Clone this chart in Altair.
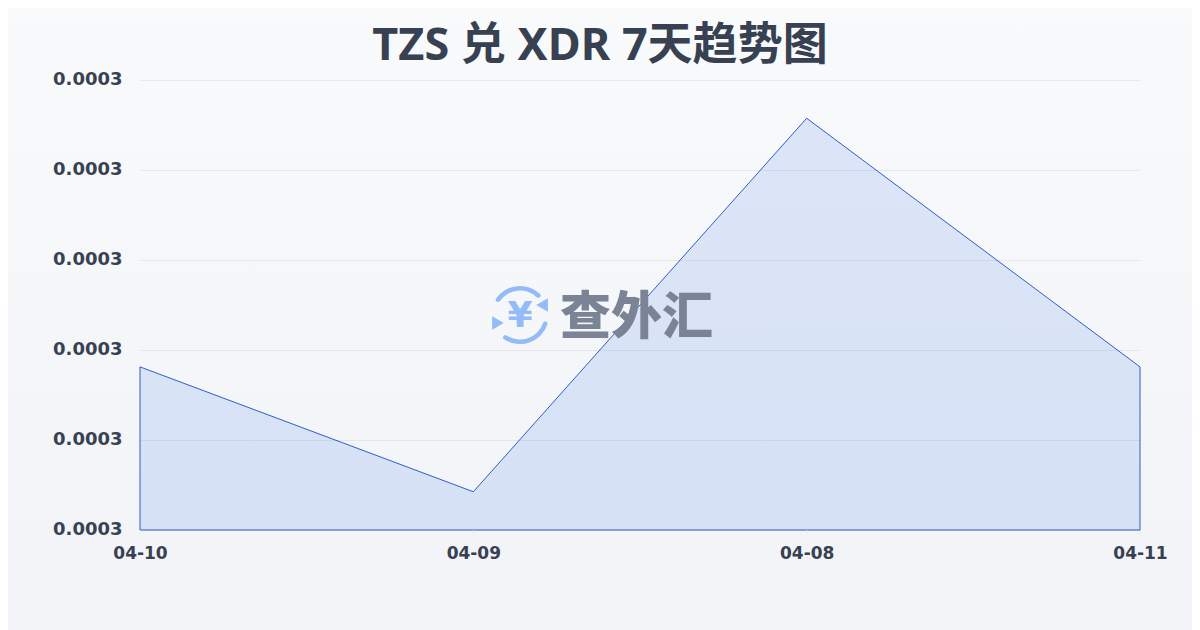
import altair as alt
import pandas as pd

dates = ["04-10", "04-09", "04-08", "04-11"]
rates = [0.0003145, 0.0003034, 0.0003366, 0.0003145]
y_ticks = [0.0003, 0.000308, 0.000316, 0.000324, 0.000332, 0.00034]
title_text = "TZS 兑 XDR 7天趋势图"

FONT = "DejaVu Sans, Noto Sans CJK SC, sans-serif"
TITLE_FONT = "Noto Sans, Noto Sans CJK SC, sans-serif"
INK = "#374151"

df = pd.DataFrame({"date": dates, "rate": rates})
one = pd.DataFrame({"a": [0]})

x = alt.X("date:N", sort=None, title=None,
          scale=alt.Scale(type="point", padding=0),
          axis=alt.Axis(labelAngle=0, labelFont=FONT, labelFontSize=17, labelFontWeight="bold",
                        labelColor=INK, labelPadding=10, tickSize=5, tickColor="#eeeeea",
                        domain=False, grid=False, zindex=1, labelBound=False, labelFlush=False))
y = alt.Y("rate:Q", title=None, stack=None,
          scale=alt.Scale(domain=[y_ticks[0], y_ticks[-1]], nice=False, zero=False),
          axis=alt.Axis(values=y_ticks, format=".4f", labelFont=FONT, labelFontSize=18,
                        labelFontWeight="bold", labelColor=INK, labelPadding=18, labelOffset=-1,
                        ticks=False, domain=False, grid=True, gridColor="#1f2937", gridWidth=1,
                        gridOpacity=0.07, zindex=1))

bg = alt.Chart(one).mark_rect(
    color=alt.LinearGradient(gradient="linear", x1=0, x2=0, y1=0, y2=1,
                             stops=[alt.GradientStop(offset=0, color="#f8fafc"),
                                    alt.GradientStop(offset=1, color="#f1f3f6")])
).encode(x=alt.value(-132), x2=alt.value(1052), y=alt.value(-72), y2=alt.value(550))

area = alt.Chart(df).mark_area(
    fill="#2563eb", fillOpacity=0.13, stroke="#2b5fc7", strokeWidth=1
).encode(x=x, y=y)

title = alt.Chart(one).mark_text(text=title_text, font=TITLE_FONT, fontSize=45, fontWeight="bold",
                                 color=INK, align="center", baseline="middle").encode(
    x=alt.value(460), y=alt.value(-34))

arc_color = "#93bbf8"
arc1 = alt.Chart(one).mark_arc(theta=5.24, theta2=7.12, innerRadius=24.5, outerRadius=29, color=arc_color,
                               cornerRadius=2).encode(x=alt.value(380), y=alt.value(235))
arc2 = alt.Chart(one).mark_arc(theta=1.82, theta2=3.8, innerRadius=24.5, outerRadius=29, color=arc_color,
                               cornerRadius=2).encode(x=alt.value(380), y=alt.value(235))
tri1 = alt.Chart(one).mark_point(shape="triangle", filled=True, size=180, opacity=1, color=arc_color,
                                 angle=150).encode(x=alt.value(404), y=alt.value(225))
tri2 = alt.Chart(one).mark_point(shape="triangle", filled=True, size=180, opacity=1, color=arc_color,
                                 angle=330).encode(x=alt.value(356), y=alt.value(243))
yen = alt.Chart(one).mark_text(text="¥", font=FONT, fontSize=36, fontWeight="bold", color=arc_color,
                               align="center", baseline="middle").encode(x=alt.value(380), y=alt.value(236))
brand = alt.Chart(one).mark_text(text="查外汇", font="Noto Sans CJK SC", fontSize=51, fontWeight=900,
                                 color="#7b8494", align="left", baseline="middle").encode(
    x=alt.value(420), y=alt.value(239))

chart = alt.layer(bg, area, arc1, arc2, tri1, tri2, yen, brand, title).properties(
    width=1000, height=450,
    padding={"left": 132, "top": 72, "right": 52, "bottom": 100},
    autosize=alt.AutoSizeParams(type="none"),
).configure_view(stroke=None).configure(background="#f8fafc")

chart.save("out.html", embed_options={"renderer": "svg", "actions": False})
